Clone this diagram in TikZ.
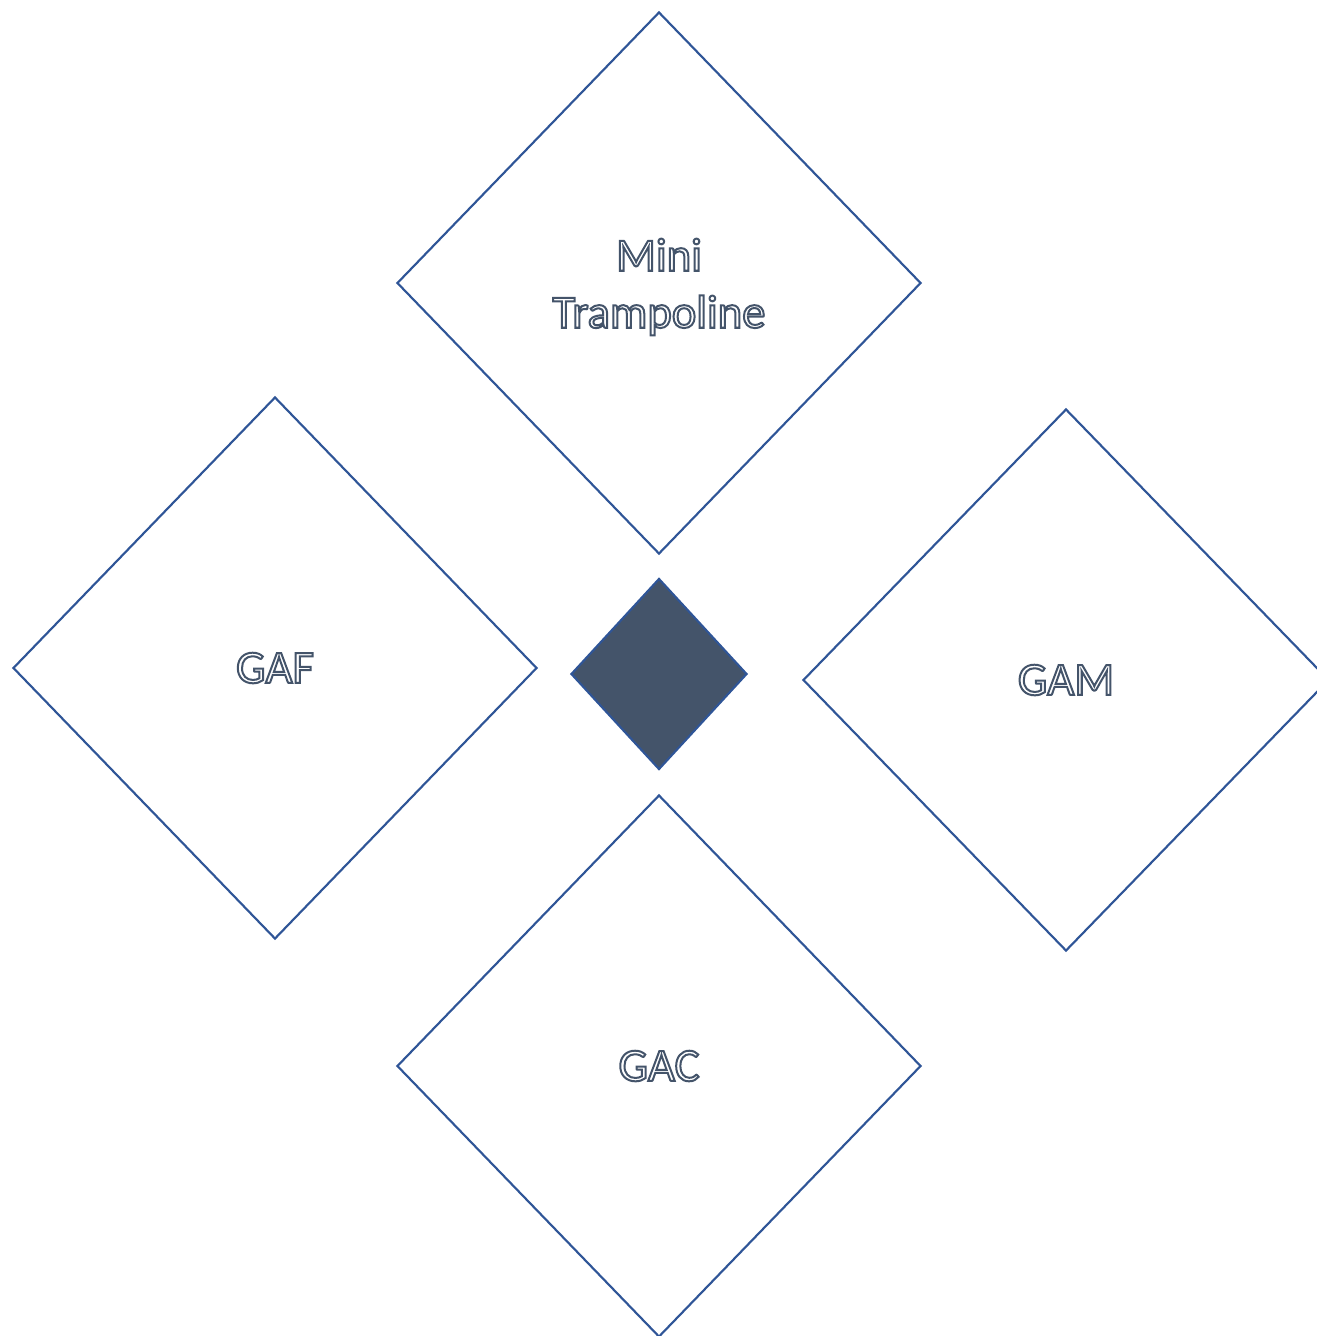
\documentclass[tikz,border=0pt]{standalone}
\usepackage{fontspec}
\setmainfont{Carlito}
\usetikzlibrary{shapes.geometric}
\definecolor{edgeblue}{HTML}{2F5597}
\definecolor{slate}{HTML}{44546A}
\newcommand\hollowtxt[1]{\special{pdf:literal direct 1 Tr 1.5 w}#1\special{pdf:literal direct 0 Tr}}
\tikzset{
  petal/.style={diamond, draw=edgeblue, line width=1.6pt, fill=white, inner sep=0pt,
    minimum width=393pt, minimum height=406.5pt, text=slate,
    font=\fontsize{35}{42.75}\selectfont, align=center},
  hub/.style={diamond, draw=edgeblue, line width=1.6pt, fill=slate, inner sep=0pt,
    minimum width=132pt, minimum height=143.25pt}
}
\begin{document}
\begin{tikzpicture}[x=0.75pt,y=-0.75pt]
\useasboundingbox (0,0) rectangle (1317,1336);
\clip (0,0) rectangle (1317,1336);
\node[petal] (top) at (659,283) {\rule{0pt}{30pt}\hollowtxt{Mini}\\\hollowtxt{Trampoline}};
\node[petal] (gaf) at (275,668) {\hollowtxt{GAF}};
\node[petal, minimum width=394.5pt] (gam) at (1066,680) {\hollowtxt{GAM}};
\node[petal] (gac) at (659,1066) {\hollowtxt{GAC}};
\node[hub] (hub) at (659,674) {};
\end{tikzpicture}
\end{document}
